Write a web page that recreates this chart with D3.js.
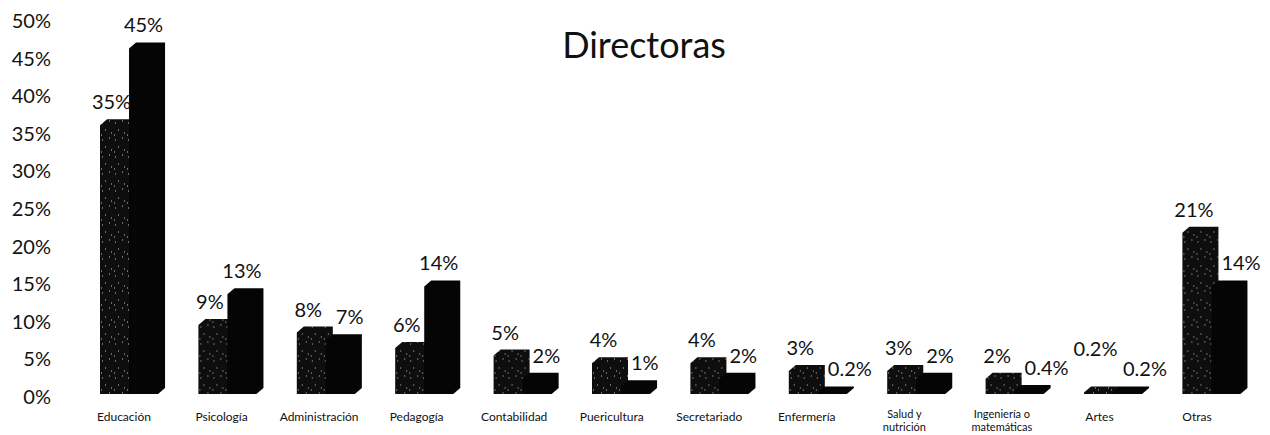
<!DOCTYPE html>
<html>
<head>
<meta charset="utf-8">
<script src="https://cdn.jsdelivr.net/npm/d3@7"></script>
<style>
  body { margin: 0; background: #fff; }
  svg { display: block; font-family: Lato, "Open Sans", sans-serif; }
</style>
</head>
<body>
<div id="wrapper"></div>
<script>
const categories = [
  "Educación", "Psicología", "Administración", "Pedagogía", "Contabilidad",
  "Puericultura", "Secretariado", "Enfermería", "Salud y\nnutrición",
  "Ingeniería o\nmatemáticas", "Artes", "Otras"
]
// percent values
const stippledValues = [35, 9, 8, 6, 5, 4, 4, 3, 3, 2, 0.2, 21]
const blackValues = [45, 13, 7, 14, 2, 1, 2, 0.2, 2, 0.4, 0.2, 14]
const yTicks = [0, 5, 10, 15, 20, 25, 30, 35, 40, 45, 50]
const title = "Directoras"

function draw() {
  const width = 1270
  const height = 435
  const depth = { dx: 7, dy: 6 }

  const svg = d3.select("#wrapper").append("svg")
    .attr("width", width)
    .attr("height", height)

  // speckled fill for the first series
  const pattern = svg.append("defs").append("pattern")
    .attr("id", "speckle")
    .attr("patternUnits", "userSpaceOnUse")
    .attr("width", 13)
    .attr("height", 17)
  pattern.append("rect").attr("width", 13).attr("height", 17).attr("fill", "#0e0e0e")
  const dots = [[2, 3], [9, 1], [5, 10], [11, 13], [1, 15]]
  pattern.selectAll("rect.dot").data(dots).join("rect")
    .attr("class", "dot")
    .attr("x", d => d[0]).attr("y", d => d[1])
    .attr("width", 1).attr("height", 2)
    .attr("fill", "#6a6a6a")

  // scales
  const xScale = d3.scaleBand()
    .domain(categories)
    .range([100, 100 + 98.4 * (categories.length - 0.41)])
    .paddingInner(0.41)
    .paddingOuter(0)

  const xSub = d3.scaleBand()
    .domain(["a", "b"])
    .range([0, xScale.bandwidth()])

  const labelScale = d3.scalePoint()
    .domain(categories)
    .range([124, 1197])

  // bars sit in front of the back wall, so they use a slightly larger scale
  const yBar = d3.scaleLinear().domain([0, 50]).range([394, 10])
  const yAxisScale = d3.scaleLinear().domain([0, 50]).range([397, 21])

  // y axis
  const yAxis = d3.axisLeft(yAxisScale)
    .tickValues(yTicks)
    .tickFormat(d => d + "%")
    .tickSize(0)
    .tickPadding(0)

  svg.append("g")
    .attr("transform", "translate(51,0)")
    .call(yAxis)
    .call(g => g.select(".domain").remove())
    .call(g => g.selectAll("text")
      .attr("fill", "#111")
      .style("font-family", "Lato, sans-serif")
      .style("font-size", "20px"))

  // title
  svg.append("text")
    .attr("x", 644)
    .attr("y", 58)
    .attr("text-anchor", "middle")
    .attr("fill", "#111")
    .style("font-size", "36px")
    .text(title)

  const barPath = (x, w, v) => {
    const top = yBar(v)
    const base = yBar(0)
    return `M${x},${top} L${x + depth.dx},${top - depth.dy} L${x + w + depth.dx},${top - depth.dy}
      L${x + w + depth.dx},${base - depth.dy} L${x + w},${base} L${x},${base} Z`
  }

  const rows = categories.map((c, i) => ({
    category: c, a: stippledValues[i], b: blackValues[i]
  }))

  const groups = svg.append("g").selectAll("g.cat")
    .data(rows)
    .join("g")
    .attr("class", "cat")
    .attr("transform", d => `translate(${xScale(d.category)},0)`)

  const w = xSub.bandwidth()

  groups.append("path")
    .attr("d", d => barPath(xSub("a"), w, d.a))
    .attr("fill", "url(#speckle)")

  groups.append("path")
    .attr("d", d => barPath(xSub("b"), w, d.b))
    .attr("fill", "#050505")

  // value labels; when both bars are tiny the first label is lifted
  groups.append("text")
    .attr("x", xSub("a") + w / 2 - 3)
    .attr("y", d => yBar(d.a) - depth.dy - 10 - (d.a < 1 ? 20 : 0))
    .attr("text-anchor", "middle")
    .attr("fill", "#111")
    .style("font-size", "20px")
    .text(d => d.a + "%")

  groups.append("text")
    .attr("x", d => d.b > d.a ? xSub("b") + w / 2 : xSub("b") + 10)
    .attr("y", d => yBar(d.b) - depth.dy - 10)
    .attr("text-anchor", d => d.b > d.a ? "middle" : "start")
    .attr("fill", "#111")
    .style("font-size", "20px")
    .text(d => d.b + "%")

  // category labels
  const catLabels = svg.append("g").selectAll("text")
    .data(categories)
    .join("text")
    .attr("x", d => labelScale(d))
    .attr("y", d => d.includes("\n") ? 418 : 421)
    .attr("text-anchor", "middle")
    .attr("fill", "#111")
    .style("font-size", d => d.includes("\n") ? "11px" : "12px")

  catLabels.selectAll("tspan")
    .data(d => d.split("\n").map(line => ({ line, x: labelScale(d) })))
    .join("tspan")
    .attr("x", t => t.x)
    .attr("dy", (t, i) => i === 0 ? 0 : 13)
    .text(t => t.line)
}

draw()
</script>
</body>
</html>
